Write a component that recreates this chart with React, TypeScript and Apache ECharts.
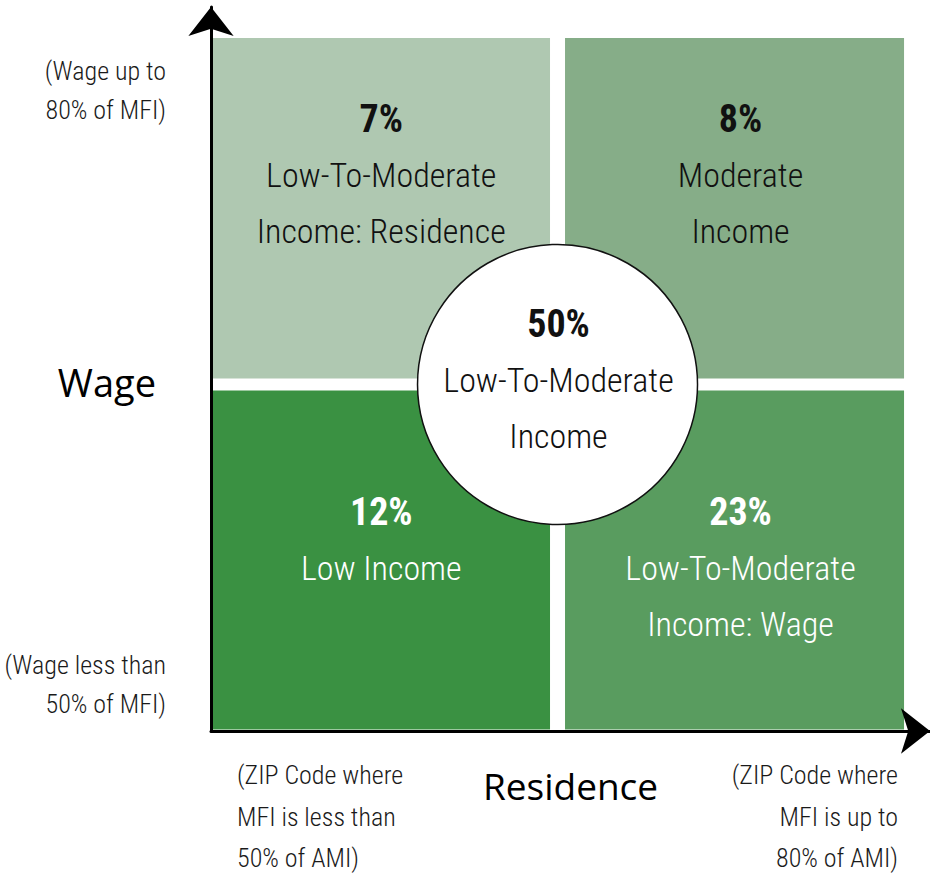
import React, { useEffect, useRef } from "react";
import * as echarts from "echarts";

// ---- data ----
const residenceCols = [0, 1, 0, 1];
const wageRows = [1, 1, 0, 0];
const shareValues = [7, 8, 12, 23];
const cellNames = [
  "Low-To-Moderate\nIncome: Residence",
  "Moderate\nIncome",
  "Low Income",
  "Low-To-Moderate\nIncome: Wage",
];
const centerShare = 50;
const centerName = "Low-To-Moderate\nIncome";
const wageAxisName = "Wage";
const residenceAxisName = "Residence";
const wageTickLabels = ["(Wage less than\n50% of MFI)", "(Wage up to\n80% of MFI)"];
const residenceTickLabels = [
  "(ZIP Code where\nMFI is less than\n50% of AMI)",
  "(ZIP Code where\nMFI is up to\n80% of AMI)",
];

// ---- styles ----
const cellColors = ["#afc8b1", "#86ad88", "#3a9142", "#599c5f"];
const cellTextColors = ["#111111", "#111111", "#ffffff", "#ffffff"];
const COND = "'Roboto Condensed', 'Liberation Sans Narrow', 'Noto Sans Condensed', 'DejaVu Sans Condensed', sans-serif";
const SANS = "'Open Sans', 'Noto Sans', sans-serif";
const GAP_X = 7.5;
const GAP_Y = 6;

function richLines(pct: number, name: string) {
  return [`{p|${pct}%}`, ...name.split("\n").map((s) => `{l|${s}}`)].join("\n");
}

export default function App() {
  const ref = useRef<HTMLDivElement>(null);

  useEffect(() => {
    if (!ref.current) return;
    const chart = echarts.init(ref.current, undefined, { renderer: "svg" });

    const cellData = residenceCols.map((c, i) => [c, wageRows[i], shareValues[i], i]);

    const tickStyle = (text: string, x: number, y: number, align: string, lh: number) => ({
      type: "text",
      x,
      y,
      style: {
        text,
        align,
        verticalAlign: "middle",
        lineHeight: lh,
        fontFamily: COND,
        fontWeight: 300,
        fontSize: 26,
        fill: "#1a1a1a",
      },
    });

    const option: any = {
      animation: false,
      backgroundColor: "#ffffff",
      grid: { left: 211, top: 7, right: -1, bottom: 144, containLabel: false },
      xAxis: {
        type: "value",
        min: 0,
        max: 2.0749,
        z: 3,
        axisLine: {
          show: true,
          onZero: false,
          symbol: ["none", "arrow"],
          symbolSize: [34, 29],
          lineStyle: { color: "#000", width: 3 },
        },
        axisTick: { show: false },
        axisLabel: { show: false },
        splitLine: { show: false },
        name: residenceAxisName,
        nameLocation: "middle",
        nameGap: 36,
        nameTextStyle: { fontFamily: SANS, fontSize: 37, color: "#000" },
      },
      yAxis: {
        type: "value",
        min: 0,
        max: 2.0895,
        z: 3,
        axisLine: {
          show: true,
          onZero: false,
          symbol: ["none", "arrow"],
          symbolSize: [34, 29],
          lineStyle: { color: "#000", width: 3 },
        },
        axisTick: { show: false },
        axisLabel: { show: false },
        splitLine: { show: false },
        name: wageAxisName,
        nameLocation: "middle",
        nameRotate: 0,
        nameGap: 55,
        nameTextStyle: {
          fontFamily: SANS,
          fontSize: 38,
          color: "#000",
          align: "right",
          verticalAlign: "top",
          lineHeight: 26,
        },
      },
      series: [
        {
          type: "custom",
          silent: true,
          z: 2,
          data: cellData,
          renderItem: (params: any, api: any) => {
            const col = api.value(0);
            const row = api.value(1);
            const idx = api.value(3);
            const p0 = api.coord([col, row]);
            const p1 = api.coord([col + 1, row + 1]);
            const left = col === 0 ? p0[0] + 1.5 : p0[0] + GAP_X;
            const right = col === 0 ? p1[0] - GAP_X : p1[0];
            const top = row === 1 ? p1[1] : p1[1] + GAP_Y;
            const bottom = row === 1 ? p0[1] - GAP_Y : p0[1] - 1.5;
            const cx = (left + right) / 2 + (col === 1 ? 6 : 0);
            const ty = row === 1 ? top + 52.5 : top + 93;
            const fill = cellTextColors[idx];
            return {
              type: "group",
              children: [
                {
                  type: "rect",
                  shape: { x: left, y: top, width: right - left, height: bottom - top },
                  style: { fill: cellColors[idx] },
                },
                {
                  type: "text",
                  x: cx,
                  y: ty,
                  style: {
                    text: richLines(shareValues[idx], cellNames[idx]),
                    align: "center",
                    verticalAlign: "top",
                    fill,
                    rich: {
                      p: { fontFamily: COND, fontWeight: "bold", fontSize: 38, lineHeight: 56, fill },
                      l: { fontFamily: COND, fontWeight: 300, fontSize: 34, lineHeight: 56, fill },
                    },
                  },
                },
              ],
            };
          },
        },
        {
          type: "scatter",
          silent: true,
          z: 5,
          data: [[1, 1]],
          symbol: "circle",
          symbolSize: 280,
          itemStyle: { color: "#ffffff", borderColor: "#111111", borderWidth: 1.5, opacity: 1 },
          label: {
            show: true,
            position: "inside",
            offset: [1, -5],
            formatter: () => richLines(centerShare, centerName),
            rich: {
              p: { fontFamily: COND, fontWeight: "bold", fontSize: 38, lineHeight: 56, color: "#111111" },
              l: { fontFamily: COND, fontWeight: 300, fontSize: 34, lineHeight: 56, color: "#111111" },
            },
          },
          emphasis: { disabled: true },
        },
      ],
      graphic: [
        tickStyle(wageTickLabels[1], 166, 90.5, "right", 39),
        tickStyle(wageTickLabels[0], 166, 684.5, "right", 39),
        tickStyle(residenceTickLabels[0], 237, 816.5, "left", 41.5),
        tickStyle(residenceTickLabels[1], 898, 816.5, "right", 41.5),
      ],
    };

    chart.setOption(option);
    return () => chart.dispose();
  }, []);

  return (
    <div
      ref={ref}
      style={{ position: "fixed", left: 0, top: 0, width: 930, height: 875, background: "#fff" }}
    />
  );
}
